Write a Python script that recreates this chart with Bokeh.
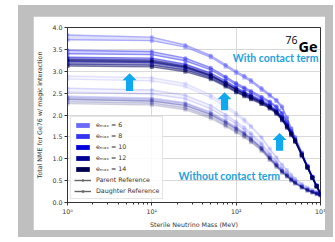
from bokeh.plotting import figure
from bokeh.layouts import column
from bokeh.models import (Label, Legend, LegendItem,
                          CustomJSTickFormatter, FixedTicker, PrintfTickFormatter)
from bokeh.embed import file_html
from bokeh.resources import INLINE

# ---------------- data ----------------
mass = [1, 10, 25, 50, 75, 100, 125, 150, 200, 250, 300, 350, 400, 450, 500, 600, 700, 800, 900, 1000]
emax = [6, 8, 10, 12, 14]
y_ticks = [0.0, 0.5, 1.0, 1.5, 2.0, 2.5, 3.0, 3.5, 4.0]

# with contact term
wc_parent_6 = [3.83, 3.78, 3.60, 3.36, 3.15, 3.00, 2.90, 2.80, 2.62, 2.47, 2.35, 2.20, 1.95, 1.70, 1.50, 1.15, 0.85, 0.60, 0.40, 0.22]
wc_daughter_6 = [3.72, 3.70, 3.55, 3.32, 3.11, 2.96, 2.86, 2.76, 2.58, 2.44, 2.32, 2.16, 1.92, 1.68, 1.48, 1.13, 0.83, 0.58, 0.39, 0.21]
wc_parent_8 = [3.48, 3.45, 3.30, 3.08, 2.88, 2.73, 2.63, 2.55, 2.42, 2.31, 2.20, 2.05, 1.85, 1.64, 1.46, 1.12, 0.83, 0.59, 0.39, 0.21]
wc_daughter_8 = [3.40, 3.38, 3.24, 3.03, 2.84, 2.69, 2.59, 2.51, 2.38, 2.28, 2.17, 2.02, 1.82, 1.62, 1.44, 1.11, 0.82, 0.58, 0.38, 0.21]
wc_parent_10 = [3.32, 3.30, 3.16, 2.96, 2.78, 2.63, 2.53, 2.46, 2.34, 2.23, 2.11, 1.96, 1.78, 1.60, 1.43, 1.10, 0.82, 0.58, 0.38, 0.20]
wc_daughter_10 = [3.22, 3.20, 3.08, 2.89, 2.72, 2.58, 2.48, 2.41, 2.30, 2.20, 2.08, 1.93, 1.76, 1.58, 1.42, 1.09, 0.81, 0.57, 0.37, 0.20]
wc_parent_12 = [3.28, 3.26, 3.12, 2.92, 2.74, 2.60, 2.50, 2.43, 2.31, 2.20, 2.08, 1.93, 1.75, 1.58, 1.42, 1.09, 0.81, 0.57, 0.37, 0.20]
wc_daughter_12 = [3.16, 3.14, 3.03, 2.85, 2.68, 2.54, 2.45, 2.38, 2.27, 2.17, 2.05, 1.90, 1.73, 1.56, 1.40, 1.08, 0.80, 0.56, 0.37, 0.19]
wc_parent_14 = [3.25, 3.23, 3.10, 2.90, 2.72, 2.58, 2.48, 2.41, 2.29, 2.18, 2.06, 1.91, 1.74, 1.57, 1.41, 1.09, 0.80, 0.57, 0.37, 0.19]
wc_daughter_14 = [3.12, 3.10, 2.99, 2.82, 2.65, 2.52, 2.43, 2.36, 2.25, 2.15, 2.03, 1.88, 1.71, 1.54, 1.39, 1.07, 0.79, 0.56, 0.36, 0.19]

# without contact term
woc_parent_6 = [2.89, 2.85, 2.72, 2.46, 2.23, 2.05, 1.91, 1.76, 1.50, 1.24, 1.04, 0.87, 0.75, 0.64, 0.55, 0.43, 0.35, 0.29, 0.25, 0.20]
woc_daughter_6 = [2.82, 2.78, 2.65, 2.40, 2.17, 2.00, 1.86, 1.72, 1.47, 1.21, 1.02, 0.85, 0.73, 0.62, 0.54, 0.42, 0.34, 0.28, 0.24, 0.20]
woc_parent_8 = [2.61, 2.57, 2.45, 2.22, 2.01, 1.85, 1.72, 1.59, 1.36, 1.12, 0.94, 0.78, 0.68, 0.57, 0.50, 0.39, 0.31, 0.26, 0.22, 0.18]
woc_daughter_8 = [2.52, 2.48, 2.37, 2.14, 1.94, 1.79, 1.66, 1.54, 1.31, 1.08, 0.91, 0.76, 0.66, 0.55, 0.48, 0.38, 0.30, 0.25, 0.21, 0.18]
woc_parent_10 = [2.43, 2.39, 2.28, 2.07, 1.87, 1.73, 1.60, 1.48, 1.26, 1.04, 0.87, 0.73, 0.63, 0.53, 0.46, 0.36, 0.29, 0.24, 0.21, 0.17]
woc_daughter_10 = [2.36, 2.32, 2.22, 2.01, 1.82, 1.68, 1.56, 1.44, 1.23, 1.01, 0.85, 0.71, 0.61, 0.52, 0.45, 0.35, 0.28, 0.24, 0.20, 0.17]
woc_parent_12 = [2.40, 2.36, 2.26, 2.04, 1.85, 1.70, 1.58, 1.46, 1.25, 1.03, 0.86, 0.72, 0.62, 0.53, 0.46, 0.36, 0.29, 0.24, 0.20, 0.17]
woc_daughter_12 = [2.30, 2.27, 2.16, 1.96, 1.77, 1.63, 1.52, 1.40, 1.20, 0.99, 0.83, 0.69, 0.60, 0.51, 0.44, 0.35, 0.28, 0.23, 0.20, 0.16]
woc_parent_14 = [2.36, 2.32, 2.22, 2.01, 1.82, 1.68, 1.56, 1.44, 1.23, 1.01, 0.85, 0.71, 0.61, 0.52, 0.45, 0.35, 0.28, 0.24, 0.20, 0.17]
woc_daughter_14 = [2.26, 2.23, 2.12, 1.92, 1.74, 1.60, 1.49, 1.38, 1.18, 0.97, 0.81, 0.68, 0.59, 0.50, 0.43, 0.34, 0.27, 0.23, 0.19, 0.16]

wc_parent = [wc_parent_6, wc_parent_8, wc_parent_10, wc_parent_12, wc_parent_14]
wc_daughter = [wc_daughter_6, wc_daughter_8, wc_daughter_10, wc_daughter_12, wc_daughter_14]
woc_parent = [woc_parent_6, woc_parent_8, woc_parent_10, woc_parent_12, woc_parent_14]
woc_daughter = [woc_daughter_6, woc_daughter_8, woc_daughter_10, woc_daughter_12, woc_daughter_14]

# annotation anchors (arrow tips)
arrow_x = [5.44, 72.8, 327]
arrow_y = [2.955, 2.52, 1.59]

# ---------------- style ----------------
colors = ["#6a6af8", "#3434f4", "#0000dc", "#000096", "#000050"]
cyan_text = "#22a2dc"
cyan_arrow = "#10a8ee"
FONT = "DejaVu Sans"
NAN = float("nan")

p = figure(width=292, height=214, x_axis_type="log", x_range=(1, 1000), y_range=(0, 4),
           output_backend="svg", toolbar_location=None,
           min_border_left=34, min_border_right=5, min_border_top=11, min_border_bottom=27)
p.margin = (11, 8, 7, 15)
p.background_fill_color = "white"
p.border_fill_color = "white"
p.outline_line_color = "#333333"
p.outline_line_width = 1

# grid
p.xgrid.grid_line_color = "#cfcfcf"
p.ygrid.grid_line_color = "#cfcfcf"
p.xgrid.grid_line_width = 0.8
p.ygrid.grid_line_width = 0.8

# axes
p.yaxis.ticker = FixedTicker(ticks=y_ticks)
p.yaxis.formatter = PrintfTickFormatter(format="%.1f")
p.xaxis.formatter = CustomJSTickFormatter(code="""
const sup = {'0':'\u2070','1':'\u00b9','2':'\u00b2','3':'\u00b3'};
const e = Math.round(Math.log10(tick));
return '10' + (sup[String(e)] || String(e));
""")
for ax in (p.xaxis, p.yaxis):
    ax.axis_line_color = "#333333"
    ax.major_tick_line_color = "#333333"
    ax.minor_tick_line_color = "#333333"
    ax.major_tick_out = 3
    ax.major_tick_in = 0
    ax.minor_tick_out = 2
    ax.minor_tick_in = 0
    ax.major_label_text_font = FONT
    ax.major_label_text_font_size = "6.3px"
    ax.major_label_text_color = "#333333"
    ax.axis_label_text_font = FONT
    ax.axis_label_text_font_size = "6.3px"
    ax.axis_label_text_font_style = "normal"
    ax.axis_label_text_color = "#333333"
    ax.major_label_standoff = 2
p.yaxis.minor_tick_line_color = None
p.xaxis.axis_label = "Sterile Neutrino Mass (MeV)"
p.yaxis.axis_label = "Total NME for Ge76 w/ magic interaction"
p.xaxis.axis_label_standoff = 3
p.yaxis.axis_label_standoff = 6

# curves: without contact term (pale), then with contact term
for i, c in enumerate(colors):
    p.varea(x=mass, y1=woc_daughter[i], y2=woc_parent[i], fill_color=c, fill_alpha=0.06)
    p.line(mass, woc_parent[i], line_color=c, line_alpha=0.17, line_width=1.4)
    p.line(mass, woc_daughter[i], line_color=c, line_alpha=0.17, line_width=1.4)
    p.scatter(mass, woc_parent[i], marker="circle", size=4, fill_color=c, line_color=None, fill_alpha=0.17)
    p.scatter(mass, woc_daughter[i], marker="square", size=4, fill_color=c, line_color=None, fill_alpha=0.17)

for i, c in enumerate(colors):
    p.varea(x=mass, y1=wc_daughter[i], y2=wc_parent[i], fill_color=c, fill_alpha=0.22)
    p.line(mass, wc_parent[i], line_color=c, line_alpha=0.5, line_width=1.4)
    p.line(mass, wc_daughter[i], line_color=c, line_alpha=0.5, line_width=1.4)
    p.scatter(mass, wc_parent[i], marker="circle", size=4, fill_color=c, line_color=None, fill_alpha=0.5)
    p.scatter(mass, wc_daughter[i], marker="square", size=4, fill_color=c, line_color=None, fill_alpha=0.5)

# arrows (pixel shape attached to data anchors)
shape = [(0, 0), (7, 7), (3.6, 7), (3.6, 18), (-3.6, 18), (-3.6, 7), (-7, 7)]
px_per_decade = 253 / 3.0
px_per_unit = 176 / 4.0
for ax_, ay_ in zip(arrow_x, arrow_y):
    xs = [ax_ * 10 ** (dx / px_per_decade) for dx, dy in shape]
    ys = [ay_ - dy / px_per_unit for dx, dy in shape]
    p.patch(xs, ys, fill_color=cyan_arrow, line_color=None)

# texts
p.add_layout(Label(x=949, y=3.307, text="With contact term", text_align="right",
                   text_baseline="alphabetic", text_font="Lato", text_font_style="bold",
                   text_font_size="10.5px", text_color=cyan_text))
p.add_layout(Label(x=20.7, y=0.61, text="Without contact term", text_align="left",
                   text_baseline="alphabetic", text_font="Lato", text_font_style="bold",
                   text_font_size="10.5px", text_color=cyan_text))
p.add_layout(Label(x=534, y=3.705, text="76", text_align="right",
                   text_baseline="alphabetic", text_font="Open Sans",
                   text_font_size="10.5px", text_color="black"))
p.add_layout(Label(x=922, y=3.557, text="Ge", text_align="right",
                   text_baseline="alphabetic", text_font="Open Sans", text_font_style="bold",
                   text_font_size="14.5px", text_color="black"))

# legend
items = []
for e, c in zip(emax, colors):
    r = p.quad(left=[NAN], right=[NAN], top=[NAN], bottom=[NAN], fill_color=c, line_color=None)
    items.append(LegendItem(label="e\u2098\u2090\u2093 = %d" % e, renderers=[r]))
lp = p.line([NAN], [NAN], line_color="#666666", line_width=1.4)
sp = p.scatter([NAN], [NAN], marker="circle", size=5, fill_color="#666666", line_color=None)
ld = p.line([NAN], [NAN], line_color="#666666", line_width=1.4)
sd = p.scatter([NAN], [NAN], marker="square", size=5, fill_color="#666666", line_color=None)
items.append(LegendItem(label="Parent Reference", renderers=[lp, sp]))
items.append(LegendItem(label="Daughter Reference", renderers=[ld, sd]))

legend = Legend(items=items, location="bottom_left")
legend.label_text_font = FONT
legend.label_text_font_size = "6.3px"
legend.label_text_color = "#333333"
legend.glyph_width = 17
legend.glyph_height = 6
legend.label_height = 9
legend.spacing = 2
legend.padding = 3
legend.margin = 3
legend.label_standoff = 5
legend.border_line_color = "#cccccc"
legend.background_fill_alpha = 0.85
p.add_layout(legend)

page = column(p, margin=(5, 2, 5, 18), styles={"background-color": "#bfbfbf"})

open("out.html", "w").write(file_html(page, INLINE))
